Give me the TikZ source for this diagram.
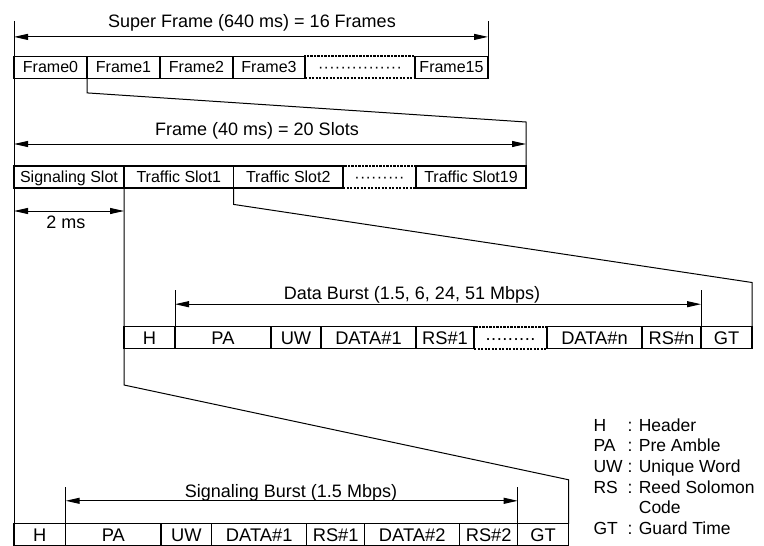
\documentclass[tikz,border=0pt]{standalone}
\usepackage{fontspec}
\setmainfont{Liberation Sans}
\usetikzlibrary{arrows.meta, positioning}

\newcommand{\dotrow}[1]{\foreach \k in {1,...,#1}{\makebox[5.6pt]{\textperiodcentered}}}

\begin{document}
\begin{tikzpicture}[x=1pt, y=-1pt, >={Triangle[length=14pt,width=6pt]}, line width=1pt]
    \tikzset{
        cell/.style={rectangle, draw, line width=1.3pt, minimum height=22pt, minimum width=#1, inner sep=0pt, outer sep=0pt, text depth=0pt},
        dotcell/.style={cell=#1, dash pattern=on 2.2pt off 1.3pt, line width=2pt},
        small/.style={font=\fontsize{16}{18}\selectfont, text height=11.5pt},
        big/.style={font=\fontsize{18.3}{20}\selectfont, text height=13pt},
        title/.style={font=\fontsize{18}{21}\selectfont, inner sep=0pt, anchor=base},
        keytext/.style={font=\fontsize{17.5}{20.7}\selectfont, inner sep=0pt},
        dim/.style={<->}
    }
    \useasboundingbox (0,0) rectangle (764,546);

    % super frame
    \node (F0) [cell=73pt, small, anchor=west] at (14,67.2) {Frame0};
    \node (F1) [cell=73pt, small, right=0pt of F0] {Frame1};
    \node (F2) [cell=73pt, small, right=0pt of F1] {Frame2};
    \node (F3) [cell=72pt, small, right=0pt of F2] {Frame3};
    \node (Fdots) [dotcell=110pt, small, right=0pt of F3] {\dotrow{15}};
    \node (F15) [cell=73pt, small, right=0pt of Fdots] {Frame15};

    % frame
    \node (Sig) [cell=110pt, small, anchor=west] at (14,177) {Signaling Slot};
    \node (TS1) [cell=109.5pt, small, right=0pt of Sig] {Traffic Slot1};
    \node (TS2) [cell=109.5pt, small, right=0pt of TS1] {Traffic Slot2};
    \node (TSdots) [dotcell=73pt, small, right=0pt of TS2] {\dotrow{9}};
    \node (TS19) [cell=110pt, small, right=0pt of TSdots] {Traffic Slot19};

    % data burst
    \node (dH) [cell=51pt, big, anchor=west] at (124,337.5) {H};
    \node (dPA) [cell=96pt, big, right=0pt of dH] {PA};
    \node (dUW) [cell=50pt, big, right=0pt of dPA] {UW};
    \node (dD1) [cell=95pt, big, right=0pt of dUW] {DATA\#1};
    \node (dRS1) [cell=58pt, big, right=0pt of dD1] {RS\#1};
    \node (ddots) [dotcell=73pt, big, right=0pt of dRS1] {\dotrow{9}};
    \node (dDn) [cell=95pt, big, right=0pt of ddots] {DATA\#n};
    \node (dRSn) [cell=59pt, big, right=0pt of dDn] {RS\#n};
    \node (dGT) [cell=51pt, big, right=0pt of dRSn] {GT};

    % signaling burst
    \node (sH) [cell=51.7pt, big, anchor=west] at (14,534.8) {H};
    \node (sPA) [cell=95.3pt, big, right=0pt of sH] {PA};
    \node (sUW) [cell=50.7pt, big, right=0pt of sPA] {UW};
    \node (sD1) [cell=95pt, big, right=0pt of sUW] {DATA\#1};
    \node (sRS1) [cell=58pt, big, right=0pt of sD1] {RS\#1};
    \node (sD2) [cell=95pt, big, right=0pt of sRS1] {DATA\#2};
    \node (sRS2) [cell=58pt, big, right=0pt of sD2] {RS\#2};
    \node (sGT) [cell=51pt, big, right=0pt of sRS2] {GT};

    % labels
    \node (SFlbl) [title] at (252,27.3) {Super Frame (640 ms) = 16 Frames};
    \node (Flbl) [title] at (257,135.6) {Frame (40 ms) = 20 Slots};
    \node (Tlbl) [title] at (66,228.8) {2 ms};
    \node (DBlbl) [title] at (412,299.3) {Data Burst (1.5, 6, 24, 51 Mbps)};
    \node (SBlbl) [title] at (291,497.3) {Signaling Burst (1.5 Mbps)};

    \node (Key) [keytext, anchor=west] at (593,478.7) {%
        \begin{tabular}{@{}l@{ }l@{}}
        H & : Header\\
        PA & : Pre Amble\\
        UW & : Unique Word\\
        RS & : Reed Solomon\\
           & \phantom{: }Code\\
        GT & : Guard Time
        \end{tabular}};

    % extents
    \draw (F0.north west) ++(0,-35.3) -- (sH.north west);
    \draw (F15.north east) -- ++(0,-35.3);
    \draw [dim] ([yshift=19.3pt]F0.north west) -- ([yshift=19.3pt]F15.north east);
    \draw [dim] ([yshift=22pt]Sig.north west) -- ([yshift=22pt]TS19.north east);
    \draw [dim] ([yshift=-23pt]Sig.south west) -- ([yshift=-23pt]Sig.south east);
    \draw (dPA.north west) -- ++(0,-36.5);
    \draw (dGT.north west) -- ++(0,-36.5);
    \draw [dim] ([yshift=22.3pt]dPA.north west) -- ([yshift=22.3pt]dGT.north west);
    \draw (sPA.north west) -- ++(0,-37);
    \draw (sGT.north west) -- ++(0,-37);
    \draw [dim] ([yshift=23pt]sPA.north west) -- ([yshift=23pt]sGT.north west);

    % zoom lines
    \draw (F1.south west) -- ++(0,14.7) -- ([yshift=44pt]TS19.north east) -- (TS19.north east);
    \draw (TS1.south east) -- ++(0,16.4) -- ([yshift=44pt]dGT.north east) -- (dGT.north east);
    \draw (Sig.south east) -- ++(0,197) -- ([yshift=44pt]sGT.north east) -- (sGT.north east);
\end{tikzpicture}
\end{document}
